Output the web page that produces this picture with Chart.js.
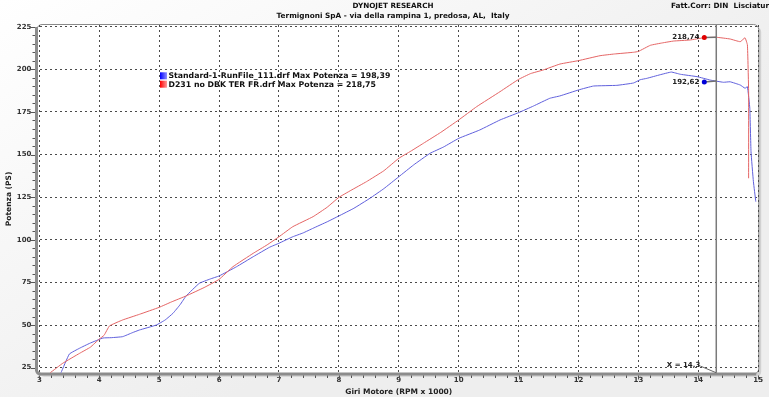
<!DOCTYPE html>
<html><head><meta charset="utf-8">
<script src="https://cdn.jsdelivr.net/npm/chart.js@4"></script>
<style>html,body{margin:0;padding:0;background:#fff;overflow:hidden}#wrap{width:769px;height:397px;position:relative}</style>
</head><body><div id="wrap"><canvas id="c" width="769" height="397"></canvas></div>
<script>
const titleMain = "DYNOJET RESEARCH";
const titleSub = "Termignoni SpA - via della rampina 1, predosa, AL,  Italy";
const cornerText = "Fatt.Corr: DIN  Lisciatura";
const xTitle = "Giri Motore (RPM x 1000)";
const yTitle = "Potenza (PS)";
const seriesNames = ["Standard-1-RunFile_111.drf Max Potenza = 198,39", "D231 no DBK TER FR.drf Max Potenza = 218,75"];
const xTicks = [3,4,5,6,7,8,9,10,11,12,13,14,15];
const yTicks = [25,50,75,100,125,150,175,200,225];

const rpmBlue = [3.36,3.5,3.67,3.84,4.06,4.2,4.39,4.55,4.67,4.95,5.1,5.23,5.35,5.45,5.67,5.85,6.0,6.29,6.57,6.84,7.0,7.23,7.4,7.57,7.8,8.0,8.25,8.52,8.75,9.0,9.25,9.52,9.75,10.0,10.35,10.69,11.0,11.25,11.52,11.69,12.0,12.25,12.64,12.92,13.03,13.14,13.36,13.55,13.7,13.98,14.2,14.42,14.53,14.7,14.78,14.82,14.86,14.88,14.92,14.96];
const psBlue  = [22,33,36.4,39.3,42.4,42.6,43.2,45.5,47.1,50,53,56.9,62,67.1,74.5,77,78.8,84.2,90.1,95.6,98,101.8,104,106.8,110.5,114,118.5,124.4,130,137,144,150.7,154.5,159.5,164.4,170.3,174.6,178.5,183,184.4,187.9,190.2,190.6,192,193.9,194.7,196.8,198.4,197.1,195.7,193.7,192.4,192.7,190.8,188.9,189.8,177.1,151.7,134.1,122.4];

const rpmRed = [3.18,3.39,3.67,3.85,4.0,4.08,4.17,4.39,4.67,5.0,5.2,5.45,5.75,6.0,6.23,6.57,6.8,7.0,7.23,7.57,7.8,8.0,8.2,8.46,8.75,9.0,9.2,9.41,9.7,10.0,10.3,10.69,11.0,11.2,11.41,11.69,12.0,12.36,12.6,12.92,13.0,13.2,13.4,13.59,13.86,14.09,14.3,14.53,14.7,14.78,14.82,14.84,14.84];
const psRed  = [22,27.6,33.4,37,41.8,44,49.5,53,56.3,60.4,63.5,67.1,72,76.8,84.2,92.1,97,101.8,107.7,113.6,119,124.9,129,134.1,140.5,147.8,152,156.6,163,170.3,178.1,186.9,194.1,197.5,199.6,203.1,205.1,208,209,210,210.5,214.1,215.5,216.6,217.2,218.5,218.8,217.8,216.2,218.5,214.3,186.9,136.1];

const cursorX = 14.3;
const cursorLabel = "X = 14,3";
const markerX = 14.1;
const markerRed = 218.74, markerBlue = 192.62;
const markerRedLabel = "218,74", markerBlueLabel = "192,62";
const cursorRed = 218.8, cursorBlue = 193.2;

const FAM = '"DejaVu Sans", Verdana, sans-serif';
function fitFont(ctx, text, w, weight){
  ctx.font = weight + ' 20px ' + FAM;
  const m = ctx.measureText(text).width;
  return weight + ' ' + (20*w/m).toFixed(2) + 'px ' + FAM;
}

const decor = {
  id: 'decor',
  beforeDraw(chart){
    const ctx = chart.ctx, W = chart.width, H = chart.height;
    const a = chart.chartArea;
    ctx.save();
    const g = ctx.createLinearGradient(0,0,W*0.3,H);
    g.addColorStop(0,'#ffffff'); g.addColorStop(1,'#eeeeee');
    ctx.fillStyle = g; ctx.fillRect(0,0,W,H);
    ctx.fillStyle = 'rgba(0,0,0,0.12)';
    ctx.beginPath(); ctx.roundRect(39, 27, a.right - 36, a.bottom - 23, 5); ctx.fill();
    ctx.fillStyle = '#ffffff';
    ctx.beginPath(); ctx.roundRect(37, 24.5, a.right - 36.5, a.bottom - 23.5, 5); ctx.fill();
    ctx.strokeStyle = '#8a8a8a'; ctx.lineWidth = 1;
    ctx.stroke();
    ctx.fillStyle = '#111'; ctx.textBaseline = 'middle';
    ctx.textAlign = 'center';
    ctx.font = fitFont(ctx, titleMain, 81, 'bold');
    ctx.fillText(titleMain, 393, 6);
    ctx.font = fitFont(ctx, titleSub, 233, 'bold');
    ctx.fillText(titleSub, 393, 16);
    ctx.textAlign = 'left';
    ctx.fillText(cornerText, 671, 6);
    ctx.restore();
  },
  beforeDatasetsDraw(chart){
    const ctx = chart.ctx, a = chart.chartArea;
    const xs = chart.scales.x, ys = chart.scales.y;
    ctx.save();
    ctx.strokeStyle = '#8c8c8c'; ctx.lineWidth = 3;
    ctx.beginPath(); ctx.moveTo(36.5, 27); ctx.lineTo(36.5, 371); ctx.stroke();
    ctx.beginPath(); ctx.moveTo(40, 374); ctx.lineTo(a.right - 2, 374); ctx.stroke();
    ctx.beginPath(); ctx.arc(40.5, 370, 4, Math.PI/2, Math.PI); ctx.stroke();
    ctx.strokeStyle = '#555'; ctx.lineWidth = 1;
    for (let i = 0; i <= 60; i++){
      const v = 3 + i*0.2;
      const px = Math.round(xs.getPixelForValue(v)) + 0.5;
      const len = (i % 5 === 0) ? 4 : 2.5;
      ctx.beginPath(); ctx.moveTo(px, 375.5); ctx.lineTo(px, 375.5 + len); ctx.stroke();
    }
    for (let v = 25; v <= 225; v += 5){
      const py = Math.round(ys.getPixelForValue(v)) + 0.5;
      const len = (v % 25 === 0) ? 4 : 2.5;
      ctx.beginPath(); ctx.moveTo(35, py); ctx.lineTo(35 - len, py); ctx.stroke();
    }
    ctx.restore();
  },
  afterDatasetsDraw(chart){
    const ctx = chart.ctx, a = chart.chartArea;
    const xs = chart.scales.x, ys = chart.scales.y;
    ctx.save();
    const cx = xs.getPixelForValue(cursorX);
    ctx.strokeStyle = '#7a7a7a'; ctx.lineWidth = 1.5;
    ctx.beginPath(); ctx.moveTo(cx, a.top); ctx.lineTo(cx, a.bottom); ctx.stroke();
    ctx.font = 'bold 7px ' + FAM; ctx.fillStyle = '#222';
    ctx.textBaseline = 'middle'; ctx.textAlign = 'right';
    ctx.fillText(cursorLabel, cx - 16, 365);
    ctx.strokeStyle = '#666'; ctx.lineWidth = 1;
    ctx.beginPath(); ctx.moveTo(cx - 16, 366); ctx.lineTo(cx, a.bottom); ctx.stroke();
    const mx = xs.getPixelForValue(markerX);
    const pts = [[markerRed, cursorRed, '#e00000', markerRedLabel],[markerBlue, cursorBlue, '#0000d8', markerBlueLabel]];
    pts.forEach(([m, c, col, lab]) => {
      const my = ys.getPixelForValue(m);
      ctx.strokeStyle = '#707070'; ctx.lineWidth = 1.5;
      ctx.beginPath(); ctx.moveTo(mx, my); ctx.lineTo(cx, ys.getPixelForValue(c)); ctx.stroke();
      ctx.fillStyle = col;
      ctx.beginPath(); ctx.arc(mx, my, 2.5, 0, Math.PI*2); ctx.fill();
      ctx.fillStyle = '#222'; ctx.font = 'bold 7px ' + FAM;
      ctx.textAlign = 'right'; ctx.textBaseline = 'middle';
      ctx.fillText(lab, mx - 5, my);
    });
    const lf = fitFont(ctx, seriesNames[0], 222, 'bold');
    const cols = [['#0000ff','#9090ff'],['#ff0000','#ff9a9a']];
    const ly = [72.3, 80.7];
    for (let i = 0; i < 2; i++){
      const gr = ctx.createLinearGradient(160, 0, 167, 0);
      gr.addColorStop(0, cols[i][0]); gr.addColorStop(1, cols[i][1]);
      ctx.fillStyle = gr; ctx.fillRect(160, ly[i], 7, 7);
      ctx.fillStyle = '#111'; ctx.font = lf; ctx.textAlign = 'left'; ctx.textBaseline = 'middle';
      ctx.fillText(seriesNames[i], 168.5, ly[i] + 3.8);
    }
    ctx.restore();
  }
};

const toPts = (xa, ya) => xa.map((x, i) => ({x, y: ya[i]}));

new Chart(document.getElementById('c'), {
  type: 'line',
  data: {
    datasets: [
      {label: seriesNames[0], data: toPts(rpmBlue, psBlue), borderColor: '#6060dc', borderWidth: 1, pointRadius: 0, tension: 0.1, order: 2},
      {label: seriesNames[1], data: toPts(rpmRed, psRed), borderColor: '#e46464', borderWidth: 1, pointRadius: 0, tension: 0.1, order: 1}
    ]
  },
  options: {
    responsive: false, animation: false, devicePixelRatio: 1,
    layout: {padding: {left: 0, top: 25, right: 10.8, bottom: 0}},
    plugins: {legend: {display: false}, tooltip: {enabled: false}},
    scales: {
      x: {
        type: 'linear', min: 3, max: 15,
        afterBuildTicks: s => { s.ticks = xTicks.map(v => ({value: v})); },
        afterFit: s => { s.height = 24.2; },
        grid: {color: '#4a4a4a', drawTicks: false, lineWidth: 1},
        border: {display: true, color: 'rgba(0,0,0,0)', width: 1, dash: [2, 3]},
        ticks: {padding: 3, color: '#333', font: {family: FAM, size: 7, weight: 'bold'}, maxRotation: 0, autoSkip: false},
        title: {display: true, text: xTitle, color: '#222', padding: {top: 0, bottom: 0}, font: {family: FAM, size: 7.5, weight: 'bold'}}
      },
      y: {
        type: 'linear', min: 22, max: 226,
        afterBuildTicks: s => { s.ticks = yTicks.map(v => ({value: v})); },
        afterFit: s => { s.width = 39.4; },
        grid: {color: '#4a4a4a', drawTicks: false, lineWidth: 1},
        border: {display: true, color: 'rgba(0,0,0,0)', width: 1, dash: [2, 3]},
        ticks: {padding: 8, color: '#333', font: {family: FAM, size: 7, weight: 'bold'}, autoSkip: false},
        title: {display: true, text: yTitle, color: '#222', padding: {top: 5, bottom: 0}, font: {family: FAM, size: 7.5, weight: 'bold'}}
      }
    }
  },
  plugins: [decor]
});
</script></body></html>
